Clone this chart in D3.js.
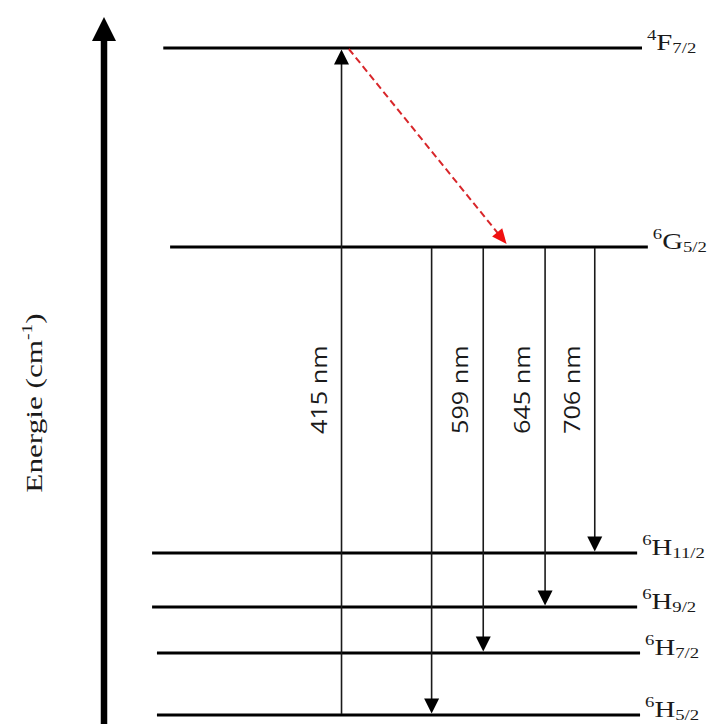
<!DOCTYPE html>
<html>
<head>
<meta charset="utf-8">
<script src="https://cdn.jsdelivr.net/npm/d3@7"></script>
<style>
  html, body { margin: 0; padding: 0; background: #fff; }
  svg { display: block; }
</style>
</head>
<body>
<svg id="chart" width="710" height="724"></svg>
<script>
// Sm3+ energy levels (schematic heights, not to scale)
const levelMultiplicity = ["4", "6", "6", "6", "6", "6"];
const levelLetter       = ["F", "G", "H", "H", "H", "H"];
const levelJ            = ["7/2", "5/2", "11/2", "9/2", "7/2", "5/2"];
const levelEnergy       = [667, 468, 162, 108, 62, 0];

// Absorption: 6H5/2 -> 4F7/2
const absorptionFrom = 5, absorptionTo = 0, absorptionNm = 415;
// Non-radiative relaxation: 4F7/2 -> 6G5/2
const relaxFrom = 0, relaxTo = 1;
// Emissions from 6G5/2 to the 6H manifold
const emissionTo = [5, 4, 3, 2];
const emissionNm = [null, 599, 645, 706];

const axisLabel = "Energie (cm";
const axisLabelSup = "-1";

// ---- layout ----
const svg = d3.select("#chart");
const y = d3.scaleLinear().domain([0, 700]).range([715, 15]);
// horizontal placement along the level lines
const x = d3.scaleLinear().domain([0, 1]).range([155, 642]);
const levelLeft = [0.017, 0.031, -0.006, -0.006, 0.004, 0.004];
const levelRight = [1.0, 1.012, 0.99, 0.99, 0.996, 0.996];
const absorptionPos = 0.383;
const relaxPos = [0.398, 0.722];
const emissionPos = [0.568, 0.674, 0.801, 0.903];

// Energy axis arrow
const axisX = 104;
svg.append("line")
  .attr("x1", axisX).attr("x2", axisX)
  .attr("y1", y(676)).attr("y2", y(-12))
  .attr("stroke", "#000").attr("stroke-width", 6.5);
svg.append("path")
  .attr("d", `M${axisX},${y(698)} L${axisX - 12},${y(674)} L${axisX + 12},${y(674)} Z`)
  .attr("fill", "#000");

// Axis title
const yt = svg.append("text")
  .attr("transform", `translate(42,${y(312)}) rotate(-90) scale(1.3,1)`)
  .attr("text-anchor", "middle")
  .attr("font-family", "'Liberation Serif', 'Times New Roman', serif")
  .attr("font-size", 24)
  .attr("fill", "#1a1a1a");
yt.append("tspan").text(axisLabel);
yt.append("tspan").attr("font-size", 15).attr("dy", -10).text(axisLabelSup);
yt.append("tspan").attr("dy", 10).text(")");

// Level lines
const levels = levelEnergy.map((e, i) => ({
  e, m: levelMultiplicity[i], L: levelLetter[i], J: levelJ[i],
  x1: x(levelLeft[i]), x2: x(levelRight[i])
}));

svg.selectAll("line.level").data(levels).join("line")
  .attr("class", "level")
  .attr("x1", d => d.x1).attr("x2", d => d.x2)
  .attr("y1", d => y(d.e)).attr("y2", d => y(d.e))
  .attr("stroke", "#000").attr("stroke-width", 3.2);

// Term symbols
const lab = svg.selectAll("text.term").data(levels).join("text")
  .attr("class", "term")
  .attr("transform", d => `translate(${d.x2 + 5},${y(d.e) + 2}) scale(1.25,1)`)
  .attr("font-family", "'Liberation Serif', 'Times New Roman', serif")
  .attr("font-size", 23)
  .attr("fill", "#1a1a1a");
lab.append("tspan").attr("font-size", 15).attr("dy", -10).text(d => d.m);
lab.append("tspan").attr("dy", 10).text(d => d.L);
lab.append("tspan").attr("font-size", 15).attr("dy", 3).text(d => d.J);

// Arrow helper: shaft + filled triangular head at (x2,y2)
function arrow(g, x1, y1, x2, y2, opts) {
  const len = Math.hypot(x2 - x1, y2 - y1);
  const ux = (x2 - x1) / len, uy = (y2 - y1) / len;
  const hl = opts.headLen, hw = opts.headWidth / 2;
  const bx = x2 - ux * hl, by = y2 - uy * hl;
  g.append("line")
    .attr("x1", x1).attr("y1", y1)
    .attr("x2", x2 - ux * hl * 0.6).attr("y2", y2 - uy * hl * 0.6)
    .attr("stroke", opts.stroke).attr("stroke-width", opts.width)
    .attr("stroke-dasharray", opts.dash || null);
  const p = d3.path();
  p.moveTo(x2, y2);
  p.lineTo(bx - uy * hw, by + ux * hw);
  p.lineTo(bx + uy * hw, by - ux * hw);
  p.closePath();
  g.append("path").attr("d", p.toString()).attr("fill", opts.fill);
}

const gArrows = svg.append("g");
const thin = { stroke: "#1a1a1a", width: 1.6, fill: "#000", headLen: 15, headWidth: 15 };

// Absorption (upward)
arrow(gArrows, x(absorptionPos), y(levelEnergy[absorptionFrom]) - 1,
      x(absorptionPos), y(levelEnergy[absorptionTo]) + 1.5, thin);

// Emissions (downward)
emissionTo.forEach((t, i) => {
  arrow(gArrows, x(emissionPos[i]), y(levelEnergy[1]) + 1,
        x(emissionPos[i]), y(levelEnergy[t]) - 1.5, thin);
});

// Non-radiative relaxation (red dashed)
arrow(gArrows, x(relaxPos[0]), y(levelEnergy[relaxFrom]) + 1,
      x(relaxPos[1]), y(levelEnergy[relaxTo]) - 3,
      { stroke: "#d8262a", width: 2, fill: "#f01010", headLen: 15, headWidth: 13, dash: "7,4" });

// Wavelength labels, rotated, just left of each arrow
const wl = [{ pos: absorptionPos, nm: absorptionNm }]
  .concat(emissionPos.map((p, i) => ({ pos: p, nm: emissionNm[i] })))
  .filter(d => d.nm !== null);

svg.selectAll("text.nm").data(wl).join("text")
  .attr("class", "nm")
  .attr("transform", d => `translate(${x(d.pos) - 15},${y(281)}) rotate(-90) scale(1.2,1)`)
  .attr("font-family", "'Open Sans', 'Noto Sans', sans-serif")
  .attr("font-size", 21)
  .attr("fill", "#1a1a1a")
  .text(d => `${d.nm} nm`);
</script>
</body>
</html>
